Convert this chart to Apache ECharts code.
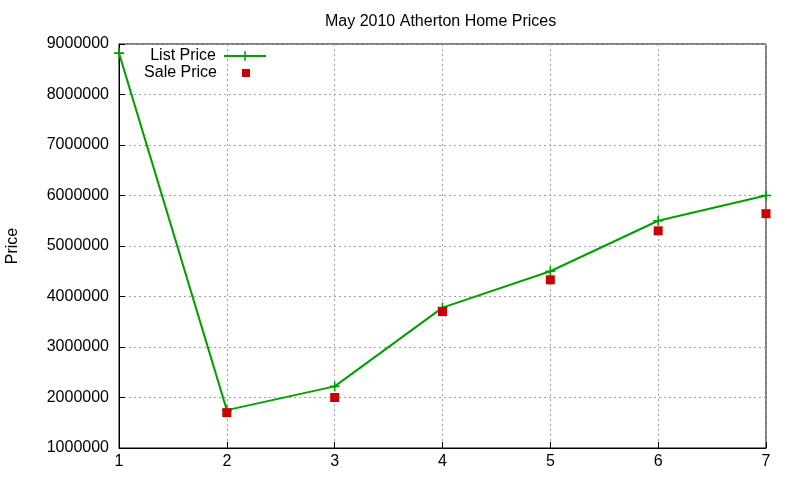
<!DOCTYPE html>
<html>
<head>
<meta charset="utf-8">
<script src="https://cdn.jsdelivr.net/npm/echarts@6/dist/echarts.min.js"></script>
<style>html,body{margin:0;padding:0;background:#fff}#c{width:800px;height:480px}</style>
</head>
<body>
<div id="c"></div>
<script>
var titleText = 'May 2010 Atherton Home Prices';
var yAxisName = 'Price';
var houses = [1, 2, 3, 4, 5, 6, 7];
var listPrice = [8820000, 1750000, 2220000, 3780000, 4500000, 5500000, 6000000];
var salePrice = [null, 1700000, 2000000, 3700000, 4330000, 5300000, 5640000];

var FONT = 'Liberation Sans, Arial, sans-serif';
var plus = 'path://M4.2,0H5.8V4.2H10V5.8H5.8V10H4.2V5.8H0V4.2H4.2Z';

var chart = echarts.init(document.getElementById('c'));
chart.setOption({
  animation: false,
  backgroundColor: '#fff',
  title: {
    text: titleText, left: 320, top: 9,
    textStyle: {fontFamily: FONT, fontSize: 16, fontWeight: 'normal', color: '#000'}
  },
  legend: [{
    data: ['List Price'],
    orient: 'vertical', align: 'right', right: 533, top: 48, padding: 0,
    itemWidth: 42, itemHeight: 12,
    textStyle: {fontFamily: FONT, fontSize: 16, color: '#000', padding: [0, 3, 0, 0]}
  }, {
    data: [{name: 'Sale Price', icon: 'rect'}],
    orient: 'vertical', align: 'right', right: 550, top: 65, padding: 0,
    itemWidth: 8, itemHeight: 8,
    textStyle: {fontFamily: FONT, fontSize: 16, color: '#000', padding: [0, 20, 0, 0]}
  }],
  grid: {left: 119, right: 34, top: 44, bottom: 32, show: true, borderColor: '#000', borderWidth: 1,
    containLabel: false, outerBoundsMode: 'none'},
  xAxis: {
    type: 'value', min: 1, max: 7, interval: 1,
    axisLine: {show: true, lineStyle: {color: '#000'}},
    axisTick: {inside: true, length: 6, lineStyle: {color: '#000'}},
    axisLabel: {fontFamily: FONT, fontSize: 16, color: '#000', margin: 6},
    splitLine: {show: true, lineStyle: {color: '#a0a0a0', type: [2, 3]}}
  },
  yAxis: {
    type: 'value', min: 1000000, max: 9000000, interval: 1000000,
    name: yAxisName, nameLocation: 'middle', nameGap: 98, nameRotate: 90,
    nameTextStyle: {fontFamily: FONT, fontSize: 16, color: '#000'},
    axisLine: {show: true, lineStyle: {color: '#000'}},
    axisTick: {inside: true, length: 6, lineStyle: {color: '#000'}},
    axisLabel: {fontFamily: FONT, fontSize: 16, color: '#000', margin: 10,
      formatter: function (v) { return String(v); }},
    splitLine: {show: true, lineStyle: {color: '#a0a0a0', type: [2, 3]}}
  },
  series: [{
    name: 'List Price', type: 'line',
    data: houses.map(function (h, i) { return [h, listPrice[i]]; }),
    symbol: plus, symbolSize: 10, showAllSymbol: true,
    lineStyle: {color: '#00a000', width: 2},
    itemStyle: {color: '#00a000'},
    z: 3
  }, {
    name: 'Sale Price', type: 'scatter',
    data: houses.map(function (h, i) { return [h, salePrice[i]]; }).filter(function (p) { return p[1] != null; }),
    symbol: 'rect', symbolSize: 9,
    itemStyle: {color: '#cc0000', opacity: 1},
    z: 4
  }]
});
</script>
</body>
</html>
